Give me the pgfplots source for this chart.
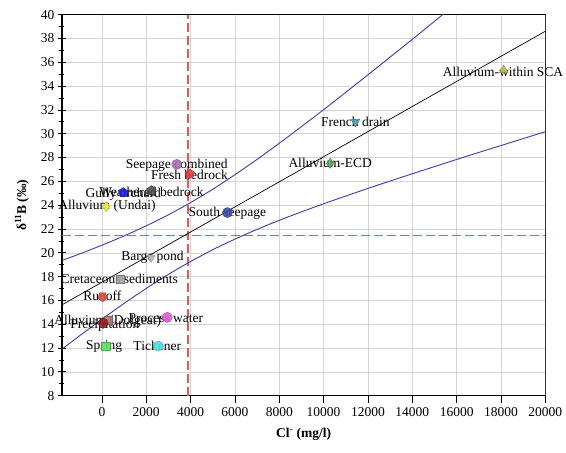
\documentclass[border=0pt]{standalone}
\usepackage{fontspec}
\setmainfont{Liberation Serif}
\usepackage{pgfplots}
\pgfplotsset{compat=1.18}
\definecolor{band}{RGB}{60,60,170}
\definecolor{refdash}{RGB}{222,90,90}
\definecolor{gridc}{RGB}{212,212,212}
\definecolor{cSCA}{RGB}{184,184,74}
\definecolor{cFrench}{RGB}{80,160,176}
\definecolor{cECD}{RGB}{96,168,96}
\definecolor{cSouth}{RGB}{64,80,168}
\definecolor{cSeep}{RGB}{168,112,184}
\definecolor{cFresh}{RGB}{224,64,64}
\definecolor{cWeath}{RGB}{80,80,80}
\definecolor{cGully}{RGB}{32,32,224}
\definecolor{cUndai}{RGB}{240,240,64}
\definecolor{cBarge}{RGB}{184,184,184}
\definecolor{cCret}{RGB}{160,160,160}
\definecolor{cRunoff}{RGB}{224,80,80}
\definecolor{cDol}{RGB}{176,120,120}
\definecolor{cPrec}{RGB}{144,32,32}
\definecolor{cProc}{RGB}{224,96,224}
\definecolor{cSpring}{RGB}{96,224,96}
\definecolor{cTick}{RGB}{80,224,232}
\pgfplotsset{
  pt/.style={only marks, mark size=5pt, mark options={fill=#1, draw=#1!75!black, line width=0.4pt, fill opacity=0.9}},
  ptr/.style={only marks, mark size=5pt, mark options={fill=#1, draw=#1!75!black, line width=0.4pt, fill opacity=0.9, rotate=180}},
}
\begin{document}
\begin{tikzpicture}
\begin{axis}[
  scale only axis, width=483.3pt, height=381pt,
  xmin=-1800, xmax=20000, ymin=8, ymax=40,
  xtick={0,2000,...,20000}, ytick={8,10,...,40}, minor ytick={9,11,...,39},
  scaled x ticks=false,
  /pgf/number format/1000 sep={},
  /pgf/number format/assume math mode=true,
  font=\rmfamily\fontsize{13.5}{16}\selectfont,
  ticklabel style={font=\rmfamily\fontsize{13.5}{16}\selectfont},
  grid=major, major grid style={gridc, line width=0.6pt},
  axis line style={line width=1.1pt},
  tick pos=left, tick align=center,
  major tick length=8pt, minor tick length=5pt,
  tick style={black, line width=0.8pt},
  xtick style={yshift=-3pt},
  xticklabel style={yshift=-4pt},
  xlabel={\textbf{Cl\textsuperscript{-} (mg/l)}},
  ylabel={\textbf{δ\textsuperscript{11}B (‰)}},
  label style={font=\rmfamily\fontsize{13.5}{16}\selectfont},
  xlabel shift=5pt, ylabel shift=5pt,
  clip=true,
]
% dashed reference lines
\addplot[refdash, line width=1.8pt, dashed, dash pattern=on 9pt off 4pt] table {
x y
-1800 21.45
20000 21.45
};
\addplot[refdash, line width=1.8pt, dashed, dash pattern=on 9pt off 4pt] table {
x y
3870 8
3870 40
};
% regression and bands
\addplot[black, line width=0.7pt] coordinates {(-1800,15.633) (20000,38.61)};
\addplot[band, line width=0.9pt, smooth] coordinates {(-1800,19.36) (-1000,19.91) (0,20.64) (1000,21.42) (2000,22.27) (3000,23.19) (4000,24.22) (5000,25.34) (6000,26.56) (7000,27.85) (8000,29.20) (9000,30.60) (10000,32.02) (11000,33.48) (12000,34.95) (13000,36.44) (14000,37.93) (15000,39.44) (16000,40.95)};
\addplot[band, line width=0.9pt, smooth] coordinates {(-1800,11.91) (-1000,13.04) (0,14.42) (1000,15.75) (2000,17.01) (3000,18.19) (4000,19.27) (5000,20.26) (6000,21.15) (7000,21.97) (8000,22.73) (9000,23.44) (10000,24.12) (11000,24.77) (12000,25.41) (13000,26.03) (14000,26.64) (15000,27.24) (16000,27.84) (17000,28.43) (18000,29.01) (19000,29.59) (20000,30.17)};
% labels
\addplot[draw=none, mark=none, nodes near coords, point meta=explicit symbolic,
  every node near coord/.append style={anchor=center, font=\rmfamily\fontsize{13.5}{16}\selectfont, inner sep=0pt}]
  table[meta=label, col sep=comma] {
x,y,label
18091,35.2,Alluvium-within SCA
11436,31.0,French drain
10294,27.52,Alluvium-ECD
5661,23.33,South seepage
3377,27.32,Seepage combined
3948,26.54,Fresh bedrock
2235,25.09,Weathered bedrock
962,24.92,Gully orchard
228,23.89,Alluvium (Undai)
2284,19.61,Barge pond
783,17.8,Cretaceous sediments
16,16.4,Runoff
261,14.25,Alluvium (Dolgeat)
130,13.92,Precipitation
2887,14.53,Process water
98,12.16,Spring
2496,12.16,Tickener
};
% markers
\addplot[pt=cSCA, mark=triangle*] coordinates {(18124,35.34)};
\addplot[ptr=cFrench, mark=triangle*] coordinates {(11436,31.0)};
\addplot[pt=cECD, mark=diamond*] coordinates {(10294,27.52)};
\addplot[pt=cSouth, mark=*] coordinates {(5661,23.38)};
\addplot[pt=cSeep, mark=*] coordinates {(3377,27.43)};
\addplot[pt=cFresh, mark=pentagon*] coordinates {(3964,26.62)};
\addplot[pt=cWeath, mark=pentagon*] coordinates {(2235,25.23)};
\addplot[pt=cGully, mark=pentagon*] coordinates {(962,25.06)};
\addplot[pt=cUndai, mark=diamond*] coordinates {(196,23.89)};
\addplot[ptr=cBarge, mark=triangle*] coordinates {(2218,19.61)};
\addplot[pt=cCret, mark=square*, mark size=4.2pt] coordinates {(832,17.8)};
\addplot[ptr=cRunoff, mark=pentagon*] coordinates {(30,16.31)};
\addplot[pt=cDol, mark=square*, mark size=4.2pt] coordinates {(284,14.36)};
\addplot[pt=cPrec, mark=*] coordinates {(59,14.08)};
\addplot[pt=cProc, mark=*] coordinates {(2949,14.58)};
\addplot[pt=cSpring, mark=square*, mark size=4.2pt] coordinates {(167,12.17)};
\addplot[pt=cTick, mark=*] coordinates {(2542,12.17)};
\draw[gray!80, line width=1.1pt] (rel axis cs:1,0) -- (rel axis cs:1,1);
\end{axis}
\pgfresetboundingbox
\path[use as bounding box] ([shift={(-62pt,-57.3pt)}]current axis.south west) rectangle ([shift={(20.7pt,14.7pt)}]current axis.north east);
\end{tikzpicture}
\end{document}
